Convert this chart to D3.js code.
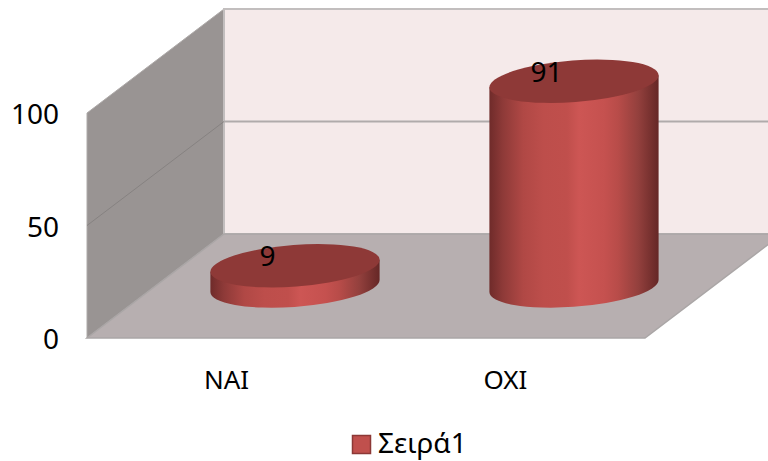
<!DOCTYPE html>
<html>
<head>
<meta charset="utf-8">
<script src="https://cdn.jsdelivr.net/npm/d3@7"></script>
<style>
html,body{margin:0;padding:0;background:#fff}
svg{display:block}
text{font-family:"Noto Sans","Open Sans",sans-serif;fill:#000}
</style>
</head>
<body>
<div id="chart"></div>
<script>
// Chart data
const categories = ["ΝΑΙ", "ΟΧΙ"];
const values = [9, 91];
const yTicks = [0, 50, 100];
const seriesName = "Σειρά1";

const width = 768, height = 461;
const svg = d3.select("#chart").append("svg").attr("width", width).attr("height", height);

// Front plane scales, plus a depth offset that projects points toward the back wall
const x = d3.scaleBand().domain(categories).range([87, 645]);
const y = d3.scaleLinear().domain([0, 100]).range([338, 113]);
const depth = {dx: 137, dy: -104};
const project = (px, py, d) => [px + depth.dx * d, py + depth.dy * d];

// Cylinder cap geometry
const capRx = x.bandwidth() * 0.304;
const capRy = 20.8;
const capTilt = -4.3;
const edgeDx = 84.6, edgeDy = 5.9;

const defs = svg.append("defs");
const bodyGradient = defs.append("linearGradient").attr("id", "cylinderBody");
[[0, "#6f2b2a"], [0.08, "#8e3a38"], [0.2, "#b04845"], [0.32, "#bd4e4b"], [0.46, "#c04f4c"],
 [0.53, "#cd5654"], [0.68, "#c5514f"], [0.76, "#b84c49"], [0.88, "#93403d"], [1, "#652726"]]
  .forEach(([o, c]) => bodyGradient.append("stop").attr("offset", o).attr("stop-color", c));

const poly = pts => "M" + pts.map(p => p.join(",")).join("L") + "Z";
const x0 = x.range()[0], x1 = x.range()[1];
const yBase = y(0), yTop = y(100);

// Side wall
svg.append("path")
  .attr("d", poly([project(x0, yBase, 0), project(x0, yBase, 1), project(x0, yTop, 1), project(x0, yTop, 0)]))
  .attr("fill", "#999493").attr("stroke", "#aeaaa9").attr("stroke-width", 1);

// Back wall
svg.append("path")
  .attr("d", poly([project(x0, yBase, 1), project(x1, yBase, 1), project(x1, yTop, 1), project(x0, yTop, 1)]))
  .attr("fill", "#f5eaea").attr("stroke", "#c2bebe").attr("stroke-width", 2);

// Floor
svg.append("path")
  .attr("d", poly([project(x0, yBase, 0), project(x1, yBase, 0), project(x1, yBase, 1), project(x0, yBase, 1)]))
  .attr("fill", "#b7afb0").attr("stroke", "#aaa6a6").attr("stroke-width", 1.5);

// Gridlines on the side and back walls
yTicks.filter(t => t > 0 && t < 100).forEach(t => {
  const a = project(x0, y(t), 0), b = project(x0, y(t), 1), c = project(x1, y(t), 1);
  svg.append("line").attr("x1", a[0]).attr("y1", a[1]).attr("x2", b[0]).attr("y2", b[1])
    .attr("stroke", "#868281").attr("stroke-width", 1);
  svg.append("line").attr("x1", b[0]).attr("y1", b[1]).attr("x2", c[0]).attr("y2", c[1])
    .attr("stroke", "#b0abab").attr("stroke-width", 2);
});

// Cylinders
const bars = svg.append("g").selectAll("g").data(categories.map((c, i) => ({c, v: values[i]}))).join("g");
bars.each(function(d) {
  const g = d3.select(this);
  const cx0 = x(d.c) + x.bandwidth() / 2;
  const [cx, by] = project(cx0, y(0), 0.5);
  const [, ty] = project(cx0, y(d.v), 0.5);
  const arc = `A${capRx},${capRy} ${capTilt} 0 0 ${cx + edgeDx},${by - edgeDy}`;
  g.append("path")
    .attr("d", `M${cx - edgeDx},${ty + edgeDy}L${cx - edgeDx},${by + edgeDy}${arc}L${cx + edgeDx},${ty - edgeDy}Z`)
    .attr("fill", "url(#cylinderBody)");
  g.append("ellipse")
    .attr("rx", capRx).attr("ry", capRy)
    .attr("transform", `translate(${cx},${ty}) rotate(${capTilt})`)
    .attr("fill", "#8e3937");
});

// Value labels
const labelFont = 28;
bars.append("text")
  .attr("x", d => project(x(d.c) + x.bandwidth() / 2, 0, 0.5)[0] - 27.5)
  .attr("y", d => project(0, y(d.v), 0.5)[1] + 0.5)
  .attr("text-anchor", "middle")
  .attr("font-size", labelFont)
  .text(d => d.v);

// Axes
const yAxis = d3.axisLeft(y).tickValues(yTicks).tickSize(0).tickPadding(0);
svg.append("g").attr("transform", "translate(59,2)").call(yAxis)
  .call(g => g.select(".domain").remove())
  .selectAll("text").attr("font-size", labelFont).style("font-family", null);

const xAxis = d3.axisBottom(x).tickSize(0).tickPadding(0);
svg.append("g").attr("transform", "translate(0,362)").call(xAxis)
  .call(g => g.select(".domain").remove())
  .selectAll("text").attr("font-size", 26).attr("dy", "1.05em").style("font-family", null);

// Legend
const legend = svg.append("g");
legend.append("rect").attr("x", 352.5).attr("y", 435.5).attr("width", 18).attr("height", 18)
  .attr("fill", "#c0504d").attr("stroke", "#8c3836").attr("stroke-width", 1.5);
legend.append("text").attr("x", 378).attr("y", 453).attr("font-size", labelFont).text(seriesName);
</script>
</body>
</html>
